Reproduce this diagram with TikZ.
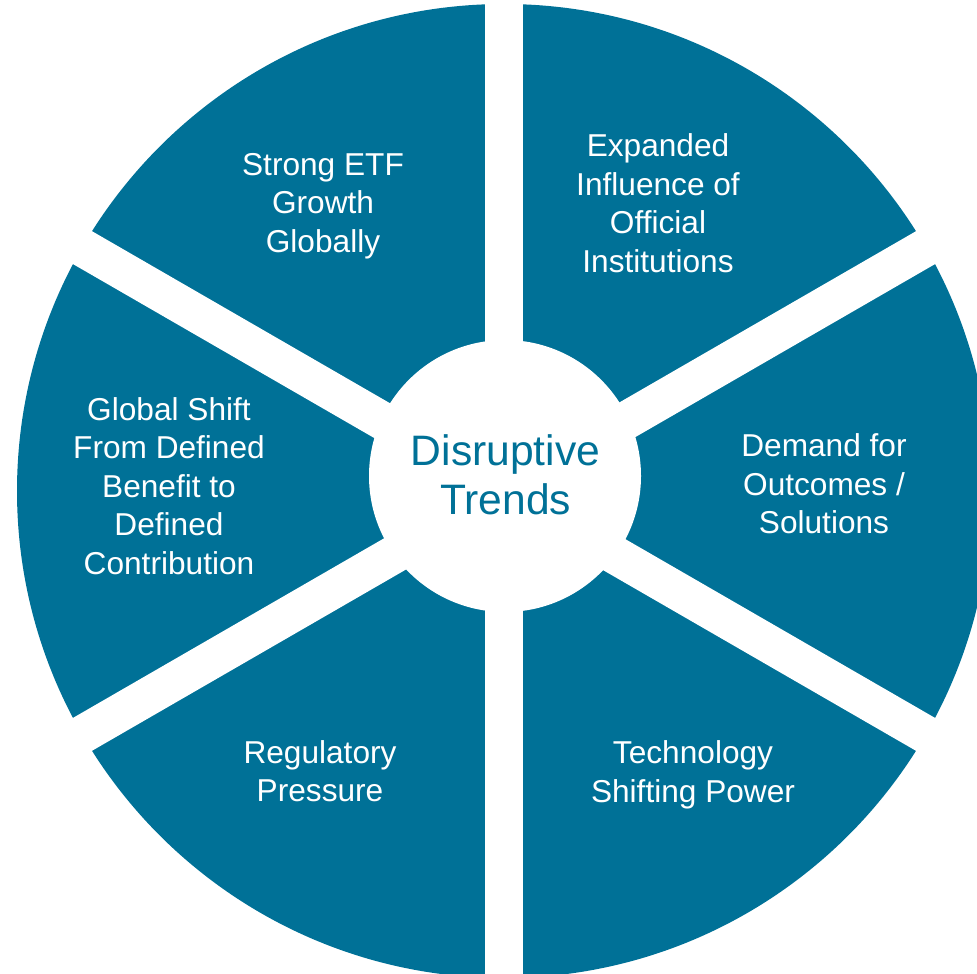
\documentclass[tikz,border=0pt]{standalone}
\usepackage{fontspec}
\setmainfont{Liberation Sans}
\definecolor{trendteal}{RGB}{0,113,151}
\tikzset{
  wedge/.style={font=\fontsize{22.5}{27.4}\selectfont,text=white,align=center,inner sep=0pt},
  hubtext/.style={font=\fontsize{30.3}{34.9}\selectfont,text=trendteal,align=center,inner sep=0pt},
  gap/.style={white,line width=0.95cm}
}

\begin{document}
\begin{tikzpicture}
\useasboundingbox (0,0) rectangle (24.425,24.325);
\clip (0,0) rectangle (24.425,24.325);
\coordinate (o) at (12.60,12.05);
\coordinate (hc) at (12.625,12.425);
\fill[trendteal] (o) circle (12.175);
\foreach \a in {90,30,-30} \draw[gap] (o) ++(\a:14) -- ++(\a+180:28);
\fill[white] (hc) circle (3.40);
\node[hubtext] (hub) at (12.64,12.45) {Disruptive\\Trends};
\node[wedge] (etf) at (8.075,19.175) {Strong ETF\\Growth\\Globally};
\node[wedge] (official) at (16.45,19.24) {Expanded\\Influence of\\Official\\Institutions};
\node[wedge] (outcomes) at (20.60,12.225) {Demand for\\Outcomes /\\Solutions};
\node[wedge] (tech) at (17.325,4.96) {Technology\\Shifting Power};
\node[wedge] (reg) at (8.00,5.05) {Regulatory\\Pressure};
\node[wedge] (dc) at (4.225,12.175) {Global Shift\\From Defined\\Benefit to\\Defined\\Contribution};
\end{tikzpicture}
\end{document}
